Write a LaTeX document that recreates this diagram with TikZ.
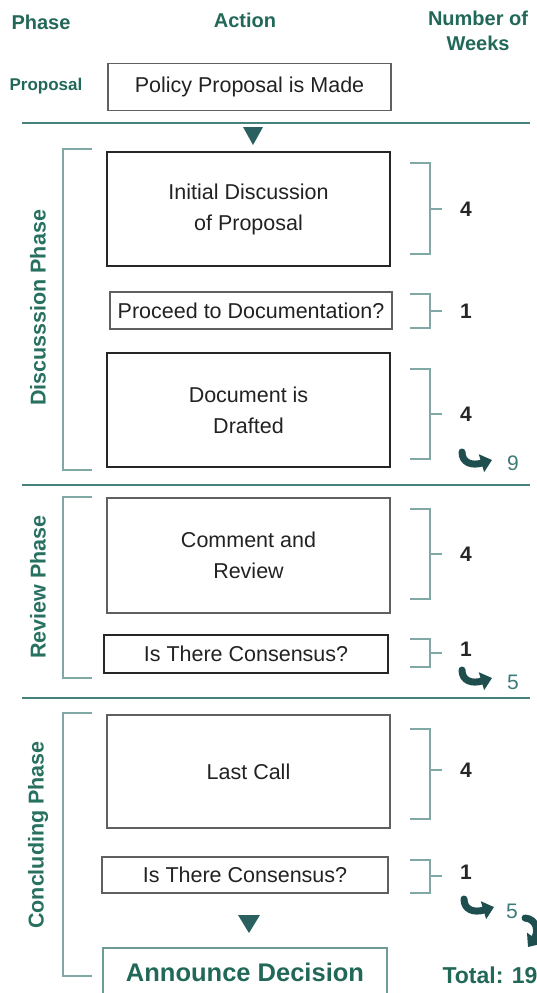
\documentclass[tikz,border=0pt]{standalone}
\usepackage{fontspec}
\setmainfont{Liberation Sans}
\usetikzlibrary{arrows.meta}
\definecolor{hdrgreen}{RGB}{34,104,88}
\definecolor{sidegreen}{RGB}{40,112,96}
\definecolor{brkcol}{RGB}{128,168,164}
\definecolor{hlinecol}{RGB}{70,130,124}
\definecolor{tricol}{RGB}{42,96,96}
\definecolor{curlycol}{RGB}{30,78,78}
\definecolor{numteal}{RGB}{62,122,120}
\definecolor{boxtext}{RGB}{34,34,34}
\definecolor{annbord}{RGB}{110,155,148}
\tikzset{
  actbox/.style={draw=gray!75!black, line width=1.4pt, inner sep=0pt, align=center,
    text=boxtext, font=\fontsize{21.5}{31}\selectfont},
  darkbox/.style={actbox, draw=black!85, line width=1.8pt},
  hdr/.style={text=hdrgreen, font=\bfseries\fontsize{20}{25}\selectfont, align=center},
  sidelbl/.style={text=sidegreen, font=\bfseries\fontsize{21.5}{25}\selectfont, rotate=90},
  brk/.style={draw=brkcol, line width=2pt},
  hline/.style={draw=hlinecol, line width=2.4pt},
  weeknum/.style={font=\bfseries\fontsize{21}{24}\selectfont, text=black!85},
  subtotal/.style={font=\fontsize{21}{24}\selectfont, text=numteal},
  curly/.style={draw=curlycol, line width=7pt, line cap=round,
    -{Triangle[length=11pt,width=18pt]}},
}
\newcommand\curlyat[2]{%
  \begin{scope}[shift={(#1,#2)}]
    \draw[curly] (4,4) .. controls (4,15) and (14,18) .. (34,12);
  \end{scope}}
\newcommand\rbrk[3]{%
  \draw[brk] (410,#1) -- (430,#1) -- (430,#2) -- (410,#2);
  \draw[brk] (430,#3) -- (442,#3);}
\newcommand\lbrk[2]{%
  \draw[brk] (92,#1) -- (63,#1) -- (63,#2) -- (92,#2);}
\begin{document}
\begin{tikzpicture}[x=1pt,y=-1pt]
\useasboundingbox (0,0) rectangle (537,993);
\clip (0,0) rectangle (537,993);

% headers
\node[hdr] (hphase) at (41,22) {Phase};
\node[hdr] (haction) at (245,20) {Action};
\node[hdr] (hweeks) at (478,31) {Number of\\Weeks};
\node[text=hdrgreen, font=\bfseries\fontsize{17}{20}\selectfont] (lprop) at (46,86) {Proposal};

% boxes
\node[actbox, minimum width=283pt, minimum height=47pt] (prop) at (249.5,87) {Policy Proposal is Made};
\node[darkbox, minimum width=283pt, minimum height=114pt] (init) at (248.5,209) {Initial Discussion\\of Proposal};
\node[actbox, minimum width=282pt, minimum height=37pt] (proceed) at (251,310.5) {Proceed to Documentation?};
\node[darkbox, minimum width=283pt, minimum height=114pt] (draft) at (248.5,410) {Document is\\Drafted};
\node[actbox, minimum width=283pt, minimum height=115pt] (comment) at (248.5,555.5) {Comment and\\Review};
\node[darkbox, minimum width=284pt, minimum height=38pt] (cons1) at (246,654) {Is There Consensus?};
\node[actbox, minimum width=283pt, minimum height=113pt] (last) at (248.5,771.5) {Last Call};
\node[actbox, minimum width=286pt, minimum height=36pt] (cons2) at (245,875) {Is There Consensus?};
\node[draw=annbord, line width=1.6pt, minimum width=284pt, inner sep=0pt, anchor=north,
  text height=34pt, text depth=26pt,
  text=hdrgreen, font=\bfseries\fontsize{25.5}{28}\selectfont] (ann) at (245,947) {Announce Decision};

% separators
\draw[hline] (22,123) -- (530,123);
\draw[hline] (22,485) -- (530,485);
\draw[hline] (22,698) -- (530,698);

% triangles
\fill[tricol] (243,127) -- (263,127) -- (253,145) -- cycle;
\fill[tricol] (238,915) -- (260,915) -- (249,933) -- cycle;

% left brackets and phase labels
\lbrk{149}{470}
\lbrk{497}{678}
\lbrk{713}{976}
\node[sidelbl] (ldisc) at (38,308) {Discusssion Phase};
\node[sidelbl] (lrev) at (38,587) {Review Phase};
\node[sidelbl] (lconc) at (38,835) {Concluding Phase};

% right brackets and week counts
\rbrk{163}{254}{209}
\node[weeknum] (w1) at (466,209) {4};
\rbrk{294}{328}{311}
\node[weeknum] (w2) at (466,311) {1};
\rbrk{369}{459}{414}
\node[weeknum] (w3) at (466,414) {4};
\rbrk{509}{599}{554}
\node[weeknum] (w4) at (466,554) {4};
\rbrk{639}{667}{653}
\node[weeknum] (w5) at (466,649) {1};
\rbrk{729}{819}{770}
\node[weeknum] (w6) at (466,770) {4};
\rbrk{860}{893}{876}
\node[weeknum] (w7) at (466,872) {1};

% subtotals
\curlyat{458}{448}
\node[subtotal] (s1) at (513,463) {9};
\curlyat{458}{666}
\node[subtotal] (s2) at (513,682) {5};
\curlyat{460}{895}
\node[subtotal] (s3) at (512,911) {5};
\draw[curly] (525,918) .. controls (537,919) and (539,932) .. (528,947);
\node[text=hdrgreen, font=\bfseries\fontsize{23}{26}\selectfont] (total) at (490,975) {Total: 19};
\end{tikzpicture}
\end{document}
